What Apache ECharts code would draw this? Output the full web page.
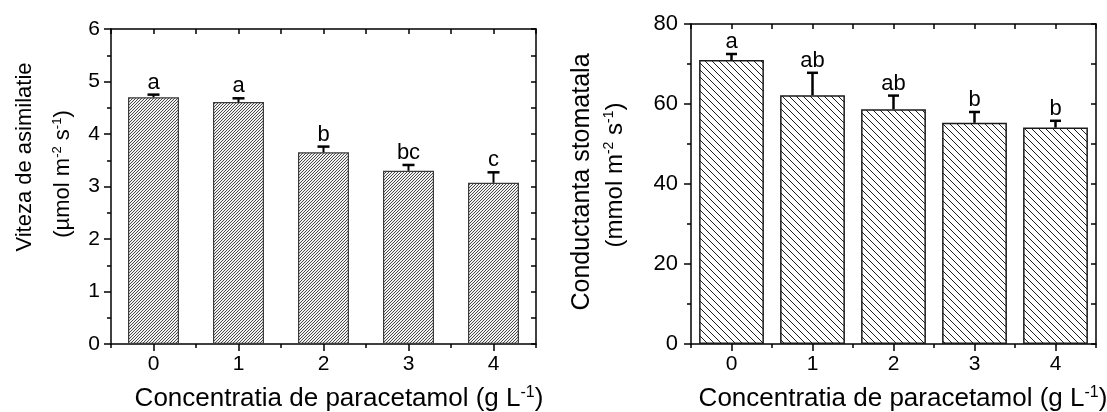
<!DOCTYPE html>
<html>
<head>
<meta charset="utf-8">
<script src="https://cdn.jsdelivr.net/npm/echarts@6/dist/echarts.min.js"></script>
<style>
  html, body { margin: 0; padding: 0; background: #fff; }
  #chart { width: 1107px; height: 412px; }
</style>
</head>
<body>
<div id="chart"></div>
<script>
// Paracetamol concentration groups (g L-1)
const categories = ['0', '1', '2', '3', '4'];

// Net assimilation rate (µmol m-2 s-1), mean and SE, significance letters
const assimilation = [4.70, 4.61, 3.65, 3.30, 3.07];
const assimilationErr = [0.05, 0.07, 0.11, 0.11, 0.20];
const assimilationLetters = ['a', 'a', 'b', 'bc', 'c'];
const assimilationTicks = [0, 1, 2, 3, 4, 5, 6];

// Stomatal conductance (mmol m-2 s-1), mean and SE, significance letters
const conductance = [71.0, 62.2, 58.7, 55.3, 54.1];
const conductanceErr = [1.5, 5.6, 3.4, 2.7, 1.7];
const conductanceLetters = ['a', 'ab', 'ab', 'b', 'b'];
const conductanceTicks = [0, 20, 40, 60, 80];

const FONT = '"Liberation Sans", Arial, Helvetica, sans-serif';

// Pixel hatch tile: one dark diagonal pixel per row
function hatchTile(size, rising, ink, paper) {
  const c = document.createElement('canvas');
  c.width = c.height = size;
  const g = c.getContext('2d');
  g.fillStyle = paper;
  g.fillRect(0, 0, size, size);
  g.fillStyle = ink;
  for (let i = 0; i < size; i++) {
    const y = rising ? size - 1 - i : i;
    g.fillRect(i, y, 1, 1);
  }
  return c;
}
const denseHatch = { image: hatchTile(3, true, '#4a4a4a', '#f2f2f2'), repeat: 'repeat' };
const wideHatch = { image: hatchTile(7, false, '#1e1e1e', '#ffffff'), repeat: 'repeat' };

function yRange(ticks) {
  return { min: ticks[0], max: ticks[ticks.length - 1], interval: ticks[1] - ticks[0] };
}

// Four category axes per panel: centre ticks and boundary ticks, bottom and top
function xAxesFor(gridIndex) {
  const line = { color: '#000', width: 1.5 };
  return [
    { gridIndex, type: 'category', data: categories, position: 'bottom',
      axisLine: { show: true, lineStyle: line },
      axisTick: { show: true, alignWithLabel: true, length: 7, lineStyle: line },
      axisLabel: { show: true, color: '#000', fontSize: 21, fontFamily: FONT, margin: 10 } },
    { gridIndex, type: 'category', data: categories, position: 'bottom',
      axisLine: { show: false },
      axisTick: { show: true, length: 4, lineStyle: line },
      axisLabel: { show: false } },
    { gridIndex, type: 'category', data: categories, position: 'top',
      axisLine: { show: true, lineStyle: line },
      axisTick: { show: true, inside: true, alignWithLabel: true, length: 5, lineStyle: line },
      axisLabel: { show: false } },
    { gridIndex, type: 'category', data: categories, position: 'top',
      axisLine: { show: false },
      axisTick: { show: true, inside: true, length: 5, lineStyle: line },
      axisLabel: { show: false } }
  ];
}

function yAxesFor(gridIndex, ticks, margin, labelSize) {
  const line = { color: '#000', width: 1.5 };
  const r = yRange(ticks);
  return [
    { gridIndex, type: 'value', position: 'left', min: r.min, max: r.max, interval: r.interval,
      axisLine: { show: true, lineStyle: line },
      axisTick: { show: true, length: 7, lineStyle: line },
      minorTick: { show: true, splitNumber: 2, length: 4, lineStyle: { color: '#000', width: 1.5 } },
      splitLine: { show: false },
      axisLabel: { show: true, color: '#000', fontSize: labelSize, fontFamily: FONT, margin } },
    { gridIndex, type: 'value', position: 'right', min: r.min, max: r.max, interval: r.interval,
      axisLine: { show: true, lineStyle: line },
      axisTick: { show: true, inside: true, length: 5, lineStyle: line },
      minorTick: { show: true, splitNumber: 2, length: 5, lineStyle: { color: '#000', width: 1.5 } },
      splitLine: { show: false },
      axisLabel: { show: false } }
  ];
}

function barSeries(values, xi, yi, pattern, width, border, borderW) {
  return {
    type: 'bar', xAxisIndex: xi, yAxisIndex: yi, data: values, barWidth: width,
    itemStyle: { color: pattern, borderColor: border, borderWidth: borderW },
    emphasis: { disabled: true }, silent: true, z: 2
  };
}

// One-sided error bars with the significance letter above each cap
function errorSeries(values, errs, letters, xi, yi, capHalf, stemW, letterSize) {
  return {
    type: 'custom', xAxisIndex: xi, yAxisIndex: yi, z: 5, silent: true,
    data: values.map((v, i) => [i, v, v + errs[i]]),
    renderItem(params, api) {
      const base = api.coord([api.value(0), api.value(1)]);
      const top = api.coord([api.value(0), api.value(2)]);
      return {
        type: 'group',
        children: [
          { type: 'line', shape: { x1: base[0], y1: base[1], x2: top[0], y2: top[1] },
            style: { stroke: '#000', lineWidth: stemW } },
          { type: 'line', shape: { x1: top[0] - capHalf, y1: top[1], x2: top[0] + capHalf, y2: top[1] },
            style: { stroke: '#000', lineWidth: 2.5 } },
          { type: 'text', x: top[0], y: top[1] - 1,
            style: { text: letters[params.dataIndex], fill: '#000', fontSize: letterSize, fontFamily: FONT,
                     align: 'center', verticalAlign: 'bottom' } }
        ]
      };
    }
  };
}

function titleText(x, y, text, size, rotate) {
  const supSize = Math.round(size * 0.6);
  return {
    type: 'text', x, y, rotation: rotate ? Math.PI / 2 : 0, silent: true,
    style: {
      text, fill: '#000', fontSize: size, fontFamily: FONT, lineHeight: size + 2,
      align: 'center', verticalAlign: 'middle',
      rich: { sup: { fontSize: supSize, fontFamily: FONT, fill: '#000', verticalAlign: 'top', lineHeight: supSize } }
    }
  };
}

const chart = echarts.init(document.getElementById('chart'), null, { renderer: 'canvas' });
chart.setOption({
  backgroundColor: '#fff',
  animation: false,
  grid: [
    { left: 111, top: 29, width: 425, height: 315 },
    { left: 691, top: 24, width: 405, height: 320 }
  ],
  xAxis: [...xAxesFor(0), ...xAxesFor(1)],
  yAxis: [...yAxesFor(0, assimilationTicks, 11, 21), ...yAxesFor(1, conductanceTicks, 13, 22)],
  series: [
    barSeries(assimilation, 0, 0, denseHatch, '60%', '#3c3c3c', 1.2),
    errorSeries(assimilation, assimilationErr, assimilationLetters, 0, 0, 6, 2, 22),
    barSeries(conductance, 4, 2, wideHatch, '80%', '#1a1a1a', 1.5),
    errorSeries(conductance, conductanceErr, conductanceLetters, 4, 2, 5.5, 2.5, 22)
  ],
  graphic: [
    titleText(25, 157, 'Viteza de asimilatie', 22, true),
    titleText(63, 174, '(µmol m{sup|-2} s{sup|-1})', 22, true),
    titleText(582, 182, 'Conductanta stomatala', 25, true),
    titleText(615, 175, '(mmol m{sup|-2} s{sup|-1})', 24, true),
    titleText(339, 399, 'Concentratia de paracetamol (g L{sup|-1})', 26, false),
    titleText(903, 399, 'Concentratia de paracetamol (g L{sup|-1})', 26, false)
  ]
});
</script>
</body>
</html>
